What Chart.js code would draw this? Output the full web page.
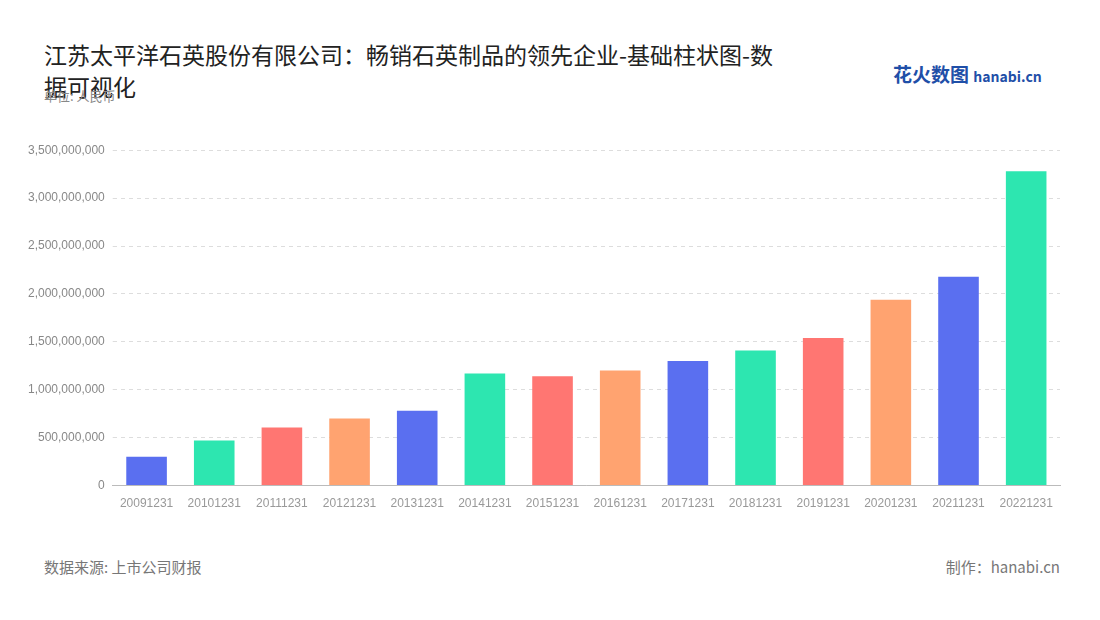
<!DOCTYPE html>
<html>
<head>
<meta charset="utf-8">
<script src="https://cdn.jsdelivr.net/npm/chart.js@4"></script>
<style>
  body { margin: 0; background: #fff; font-family: "Noto Sans CJK SC", "Noto Sans", sans-serif; }
  #wrap { position: relative; width: 1100px; height: 620px; }
  #title { position: absolute; left: 44px; top: 38px; width: 742px; font-size: 23px; line-height: 32px; color: #222; }
  #unit { position: absolute; left: 44px; top: 86px; font-size: 13px; color: #888; }
  #logo { position: absolute; left: 893px; top: 60px; font-size: 19px; font-weight: bold; color: #1f4fa8; }
  #logo span { font-size: 14px; color: #1f4fa8; }
  #src { position: absolute; left: 44px; top: 556px; font-size: 15px; color: #777; }
  #made { position: absolute; right: 40px; top: 556px; font-size: 15px; color: #777; }
  #chart-box { position: absolute; left: 0; top: 135px; width: 1100px; height: 379px; }
</style>
</head>
<body>
<div id="wrap">
  <div id="title">江苏太平洋石英股份有限公司：畅销石英制品的领先企业-基础柱状图-数据可视化</div>
  <div id="unit">单位: 人民币</div>
  <div id="logo">花火数图 <span>hanabi.cn</span></div>
  <div id="src">数据来源: 上市公司财报</div>
  <div id="made">制作：hanabi.cn</div>
  <div id="chart-box"><canvas id="chart"></canvas></div>
</div>
<script>
const years = ['20091231', '20101231', '20111231', '20121231', '20131231', '20141231', '20151231',
    '20161231', '20171231', '20181231', '20191231', '20201231', '20211231', '20221231'];
const revenue = [300000000, 470000000, 606000000, 700000000, 780000000, 1170000000, 1140000000,
    1200000000, 1300000000, 1410000000, 1540000000, 1940000000, 2180000000, 3280000000];
const palette = ['#5a6ff0', '#2de6b0', '#ff7672', '#ffa370'];

const ctx = document.getElementById('chart').getContext('2d');
new Chart(ctx, {
    type: 'bar',
    data: {
        labels: years,
        datasets: [{
            data: revenue,
            backgroundColor: years.map((y, i) => palette[i % 4]),
            categoryPercentage: 0.6,
            barPercentage: 1
        }]
    },
    options: {
        responsive: true,
        maintainAspectRatio: false,
        animation: false,
        layout: { padding: { left: 20, right: 40, top: 10 } },
        scales: {
            y: {
                min: 0, max: 3500000000,
                ticks: { stepSize: 500000000, color: '#888', font: { size: 12 }, padding: 8,
                    callback: v => v.toLocaleString('en-US') },
                grid: { color: '#ddd', tickLength: 0 },
                border: { display: false, dash: [4, 4] }
            },
            x: {
                ticks: { color: '#999', font: { size: 12 }, maxRotation: 0, autoSkip: false },
                grid: { display: false },
                border: { color: '#bbb' }
            }
        },
        plugins: { legend: { display: false }, tooltip: { enabled: false } }
    }
});
</script>
</body>
</html>
